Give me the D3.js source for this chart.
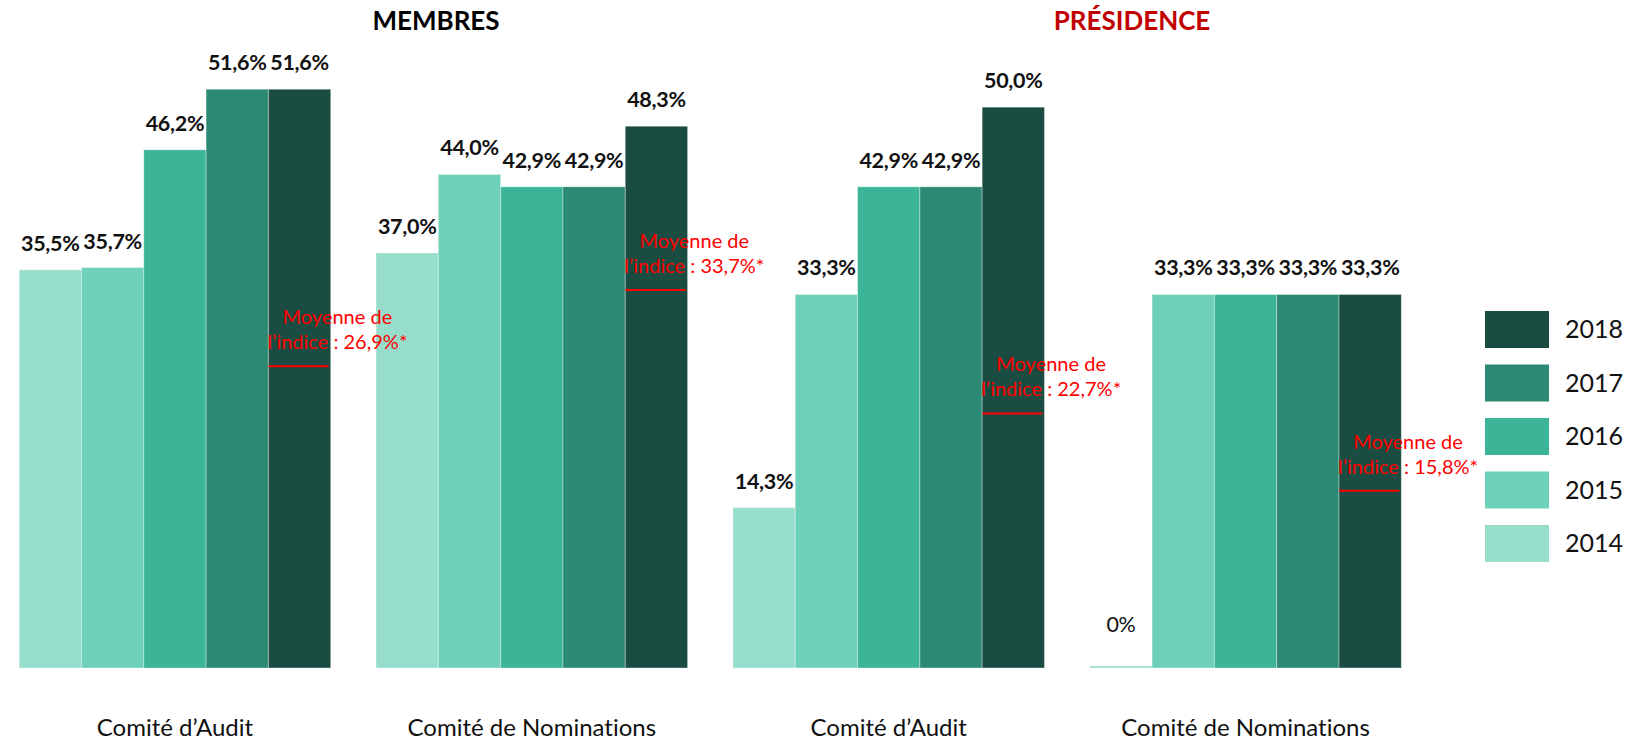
<!DOCTYPE html>
<html>
<head>
<meta charset="utf-8">
<script src="https://cdn.jsdelivr.net/npm/d3@7"></script>
<style>
  body { margin: 0; background: #fff; }
  svg { display: block; font-family: Lato, "Open Sans", sans-serif; font-variant-ligatures: none; }
</style>
</head>
<body>
<script>
// data
var categories = ["Comité d’Audit", "Comité de Nominations", "Comité d’Audit", "Comité de Nominations"]
var years = ["2014", "2015", "2016", "2017", "2018"]
var v2014 = [35.5, 37.0, 14.3, 0]
var v2015 = [35.7, 44.0, 33.3, 33.3]
var v2016 = [46.2, 42.9, 42.9, 33.3]
var v2017 = [51.6, 42.9, 42.9, 33.3]
var v2018 = [51.6, 48.3, 50.0, 33.3]
var means = [26.9, 33.7, 22.7, 15.8]
var panels = ["MEMBRES", "PRÉSIDENCE"]
var colors = ["#97ddcb", "#6fd0b9", "#3cb497", "#2c8973", "#1a4c42"]

var width = 1637, height = 740
var series = [v2014, v2015, v2016, v2017, v2018]

var svg = d3.select("body").append("svg")
    .attr("width", width)
    .attr("height", height)

var x0 = d3.scaleBand()
    .domain(d3.range(categories.length))
    .range([-3.5, 1424])
    .paddingInner(0.127)
    .paddingOuter(0.0635)

var x1 = d3.scaleBand()
    .domain(years)
    .range([0, x0.bandwidth()])

var y = d3.scaleLinear()
    .domain([0, 60])
    .range([668, -5])

var color = d3.scaleOrdinal().domain(years).range(colors)

var fmt = function(v) {
    return v === 0 ? "0%" : d3.format(".1f")(v).replace(".", ",") + "%"
}

// one record per bar
var bars = []
categories.forEach(function(c, i) {
    years.forEach(function(yr, j) {
        bars.push({ group: i, year: yr, value: series[j][i] })
    })
})

var chart = svg.append("g").attr("class", "bars")

chart.selectAll("rect")
    .data(bars)
    .enter().append("rect")
    .attr("x", function(d) { return x0(d.group) + x1(d.year) })
    .attr("width", x1.bandwidth())
    .attr("y", function(d) { return Math.min(y(d.value), y(0) - 2) })
    .attr("height", function(d) { return Math.max(y(0) - y(d.value), 2) })
    .attr("fill", function(d) { return color(d.year) })
    .attr("stroke", "rgba(255,255,255,0.35)")
    .attr("stroke-width", 1)

chart.selectAll("text.val")
    .data(bars)
    .enter().append("text")
    .attr("class", "val")
    .attr("x", function(d) { return x0(d.group) + x1(d.year) + x1.bandwidth() / 2 })
    .attr("y", function(d) { return d.value === 0 ? y(0) - 36 : y(d.value) - 19 })
    .attr("text-anchor", "middle")
    .attr("font-size", 21.5)
    .attr("letter-spacing", -0.3)
    .attr("font-weight", function(d) { return d.value === 0 ? "normal" : "bold" })
    .attr("fill", "#111")
    .text(function(d) { return fmt(d.value) })

// average of the index, drawn on the 2018 bar
var avg = svg.append("g").attr("class", "avg")
means.forEach(function(m, i) {
    var left = x0(i) + x1("2018")
    var ly = y(m)
    avg.append("line")
        .attr("x1", left)
        .attr("x2", left + x1.bandwidth() - 2)
        .attr("y1", ly)
        .attr("y2", ly)
        .attr("stroke", "#ff0000")
        .attr("stroke-width", 2)
    var t = avg.append("text")
        .attr("text-anchor", "middle")
        .attr("font-size", 20)
        .attr("fill", "#ff0000")
    t.append("tspan").attr("x", left + 69).attr("y", ly - 42).text("Moyenne de")
    t.append("tspan").attr("x", left + 69).attr("y", ly - 17).text("l’indice : " + fmt(m) + "*")
})

// category labels
svg.append("g").selectAll("text")
    .data(categories)
    .enter().append("text")
    .attr("x", function(d, i) { return x0(i) + x0.bandwidth() / 2 })
    .attr("y", 736)
    .attr("text-anchor", "middle")
    .attr("font-size", 24)
    .attr("fill", "#111")
    .text(function(d) { return d })

// panel titles
svg.append("text")
    .attr("x", 436).attr("y", 30)
    .attr("text-anchor", "middle")
    .attr("font-size", 26).attr("font-weight", "bold")
    .attr("fill", "#000")
    .text(panels[0])

svg.append("text")
    .attr("x", 1132).attr("y", 30)
    .attr("text-anchor", "middle")
    .attr("font-size", 26).attr("font-weight", "bold")
    .attr("fill", "#c00000")
    .text(panels[1])

// legend, newest year on top
var legend = svg.append("g").attr("class", "legend")
    .selectAll("g")
    .data(years.slice().reverse())
    .enter().append("g")
    .attr("transform", function(d, i) { return "translate(1485," + (311 + i * 53.5) + ")" })

legend.append("rect")
    .attr("width", 64)
    .attr("height", 37)
    .attr("fill", function(d) { return color(d) })

legend.append("text")
    .attr("x", 80)
    .attr("y", 18.5)
    .attr("dy", "0.35em")
    .attr("font-size", 25)
    .attr("fill", "#111")
    .text(function(d) { return d })
</script>
</body>
</html>
